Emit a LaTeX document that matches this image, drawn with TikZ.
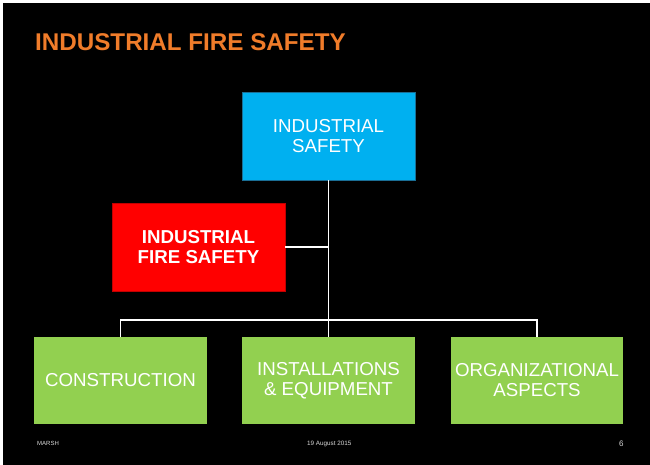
\documentclass[tikz,border=0pt]{standalone}
\usepackage{fontspec}
\setmainfont{Liberation Sans}
\definecolor{slideorange}{HTML}{F07C2A}
\definecolor{skyblue}{HTML}{00B0F0}
\definecolor{skyedge}{HTML}{1A6E95}
\definecolor{firered}{HTML}{FF0000}
\definecolor{fireedge}{HTML}{C00000}
\definecolor{leafgreen}{HTML}{92D050}
\begin{document}
\begin{tikzpicture}[x=1pt,y=-1pt,
  box/.style={anchor=north west,inner sep=0pt,outer sep=0pt,align=center,text=white,
    font=\fontsize{18.7}{20}\selectfont},
  link/.style={draw=white,line width=1.4pt},
  foot/.style={anchor=base west,inner sep=0pt,text=white!85!black}]
% page and slide frame
\fill[white] (0,0) rectangle (650,465);
\fill[black] (3,3) rectangle (650,465);
\useasboundingbox (0,0) rectangle (650,465);

% title
\node[anchor=base west,inner sep=0pt,text=slideorange,font=\fontsize{24.2}{28}\selectfont\bfseries]
  (title) at (35,51) {INDUSTRIAL FIRE SAFETY};

% boxes
\node[box,fill=skyblue,draw=skyedge,line width=0.8pt,minimum width=173pt,minimum height=88pt]
  (ind) at (242,92) {INDUSTRIAL\\SAFETY};
\node[box,fill=firered,draw=fireedge,line width=0.8pt,minimum width=173pt,minimum height=88pt,
  font=\fontsize{18.7}{20}\selectfont\bfseries]
  (fire) at (112,203) {INDUSTRIAL\\FIRE SAFETY};
\node[box,fill=leafgreen,minimum width=173pt,minimum height=87pt]
  (cons) at (34,337) {CONSTRUCTION};
\node[box,fill=leafgreen,minimum width=173pt,minimum height=87pt]
  (inst) at (242,337) {INSTALLATIONS\\\& EQUIPMENT};
\node[box,fill=leafgreen,minimum width=172pt,minimum height=87pt]
  (org) at (451,337) {ORGANIZATIONAL\\ASPECTS};

% connectors
\coordinate (bus) at (ind.south |- 0,320);
\coordinate (tee) at (ind.south |- fire.east);
\draw[link] (ind.south) -- (inst.north);
\draw[link] (fire.east) -- (tee);
\draw[link] (cons.north) -- (cons.north |- bus) -- (org.north |- bus) -- (org.north);

% footer
\node[foot,font=\fontsize{6}{7}\selectfont] (brand) at (37,445) {MARSH};
\node[foot,font=\fontsize{6.3}{7}\selectfont] (date) at (307,445) {19 August 2015};
\node[foot,font=\fontsize{8}{9}\selectfont] (page) at (619,446) {6};
\end{tikzpicture}
\end{document}
